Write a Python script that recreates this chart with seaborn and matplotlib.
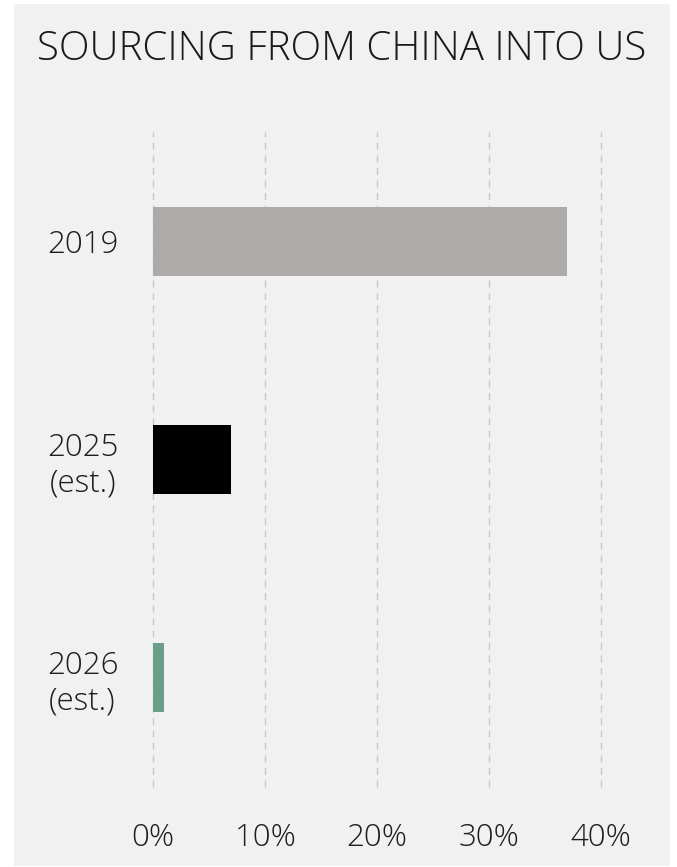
import matplotlib
matplotlib.use("Agg")
import matplotlib.pyplot as plt
from matplotlib.patches import Rectangle
import seaborn as sns
import pandas as pd

categories = ["2019", "2025\n(est.)", "2026\n(est.)"]
values = [37.0, 7.0, 1.0]
colors = ["#aeaaa9", "#000000", "#6a9e86"]
xticks = [0, 10, 20, 30, 40]
xtick_labels = ["0%", "10%", "20%", "30%", "40%"]
title = "SOURCING FROM CHINA INTO US"

sns.set_theme(style="white")
plt.rcParams["font.family"] = ["Open Sans", "DejaVu Sans"]

W, H = 677, 867
fig = plt.figure(figsize=(W / 100, H / 100), dpi=100, facecolor="white")
bg = "#f1f1f1"
fig.patches.append(Rectangle((14 / W, 1 - 866 / H), (670 - 14) / W, (866 - 4) / H,
                             transform=fig.transFigure, facecolor=bg, edgecolor="none", zorder=-5))

ax = fig.add_axes([153 / W, 1 - 787 / H, (601 - 153) / W, (787 - 132) / H])
ax.set_facecolor("none")
ax.set_zorder(2)

df = pd.DataFrame({"cat": categories, "val": values})
sns.barplot(data=df, x="val", y="cat", hue="cat", palette=colors, orient="h",
            width=0.315, legend=False, ax=ax, saturation=1, zorder=3, linewidth=0)

ax.set_xlim(0, 40)
ax.set_ylim(2.5, -0.5)
ax.set_xticks(xticks)
ax.set_xticklabels(xtick_labels, fontsize=22.5, fontweight="light", color="#1e1e1e")
ax.set_yticks(range(len(categories)))
ax.set_yticklabels(categories, fontsize=22.5, fontweight="light", color="#1e1e1e",
                   multialignment="center", linespacing=1.15)
ax.tick_params(axis="x", length=0, pad=25)
ax.tick_params(axis="y", length=0, pad=25)
ax.set_xlabel("")
ax.set_ylabel("")
for s in ax.spines.values():
    s.set_visible(False)
ax.grid(axis="x", color="#c9c9c9", linestyle=(0, (5, 4)), linewidth=1.0, zorder=0)
for gl in ax.get_xgridlines():
    gl.set_clip_on(False)
ax.grid(axis="y", visible=False)

fig.text(342 / W, 1 - 49 / H, title, ha="center", va="center", fontsize=29,
         fontweight="light", color="#1a1a1a", zorder=5)

fig.savefig("out.png", dpi=100, facecolor="white")
